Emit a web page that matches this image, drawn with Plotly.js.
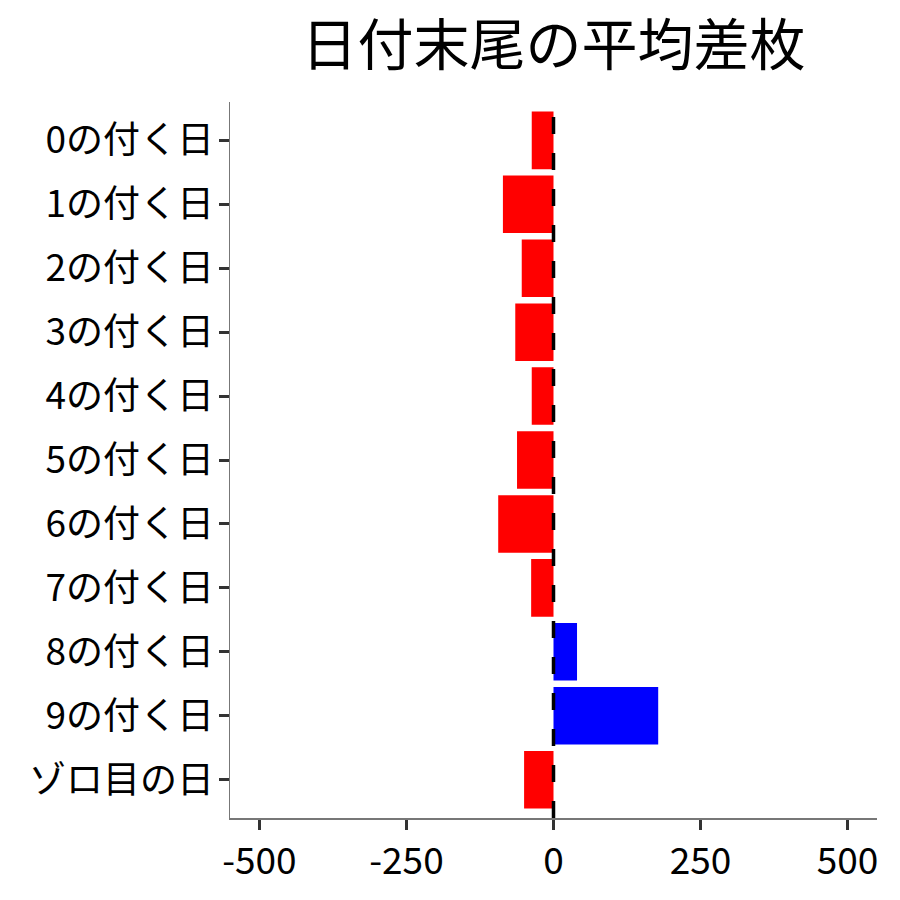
<!DOCTYPE html>
<html>
<head>
<meta charset="utf-8">
<script src="https://cdn.plot.ly/plotly-3.0.1.min.js"></script>
<style>
  html, body { margin: 0; padding: 0; background: #fff; }
  #plotDiv { width: 900px; height: 900px; }
</style>
</head>
<body>
<div id="plotDiv"></div>
<script>
// 日付末尾ごとの平均差枚
const categories = ['0の付く日', '1の付く日', '2の付く日', '3の付く日', '4の付く日',
    '5の付く日', '6の付く日', '7の付く日', '8の付く日', '9の付く日', 'ゾロ目の日'];
const avgDiff = [-37, -86, -54, -65, -37, -62, -94, -38, 40, 178, -50];
const xTicks = [-500, -250, 0, 250, 500];

const font = '"Noto Sans CJK JP", "Noto Sans", sans-serif';
const barColors = avgDiff.map(v => v >= 0 ? '#0000FF' : '#FF0000');

const data = [{
    type: 'bar',
    orientation: 'h',
    x: avgDiff,
    y: categories,
    marker: { color: barColors, line: { width: 0 } },
    hoverinfo: 'x+y'
}];

const layout = {
    width: 900,
    height: 900,
    margin: { l: 230, r: 23, t: 102, b: 82 },
    paper_bgcolor: '#fff',
    plot_bgcolor: '#fff',
    showlegend: false,
    bargap: 0.1,
    font: { family: font, color: '#000' },
    title: {
        text: '日付末尾の平均差枚',
        font: { family: font, size: 56, color: '#000' },
        x: 0.5,
        xref: 'paper',
        y: 0.95,
        yanchor: 'middle'
    },
    xaxis: {
        range: [-550, 550],
        tickvals: xTicks,
        ticktext: xTicks.map(String),
        showgrid: false,
        zeroline: false,
        showline: true,
        linecolor: '#777',
        linewidth: 1.5,
        ticks: 'outside',
        ticklen: 10,
        tickwidth: 3,
        tickcolor: '#333',
        tickfont: { family: font, size: 37, color: '#000' }
    },
    yaxis: {
        type: 'category',
        categoryorder: 'array',
        categoryarray: categories,
        range: [10.6, -0.6],
        showgrid: false,
        zeroline: false,
        showline: true,
        linecolor: '#777',
        linewidth: 1.5,
        ticks: 'outside',
        ticklen: 10,
        tickwidth: 3,
        tickcolor: '#333',
        ticklabelstandoff: -3,
        tickfont: { family: font, size: 37, color: '#000' }
    },
    shapes: [{
        type: 'line',
        xref: 'x',
        yref: 'paper',
        x0: 0, x1: 0,
        y0: 0, y1: 1,
        layer: 'above',
        line: { color: '#000', width: 3.5, dash: '17px,19px' }
    }]
};

Plotly.newPlot('plotDiv', data, layout, { staticPlot: true });
</script>
</body>
</html>
